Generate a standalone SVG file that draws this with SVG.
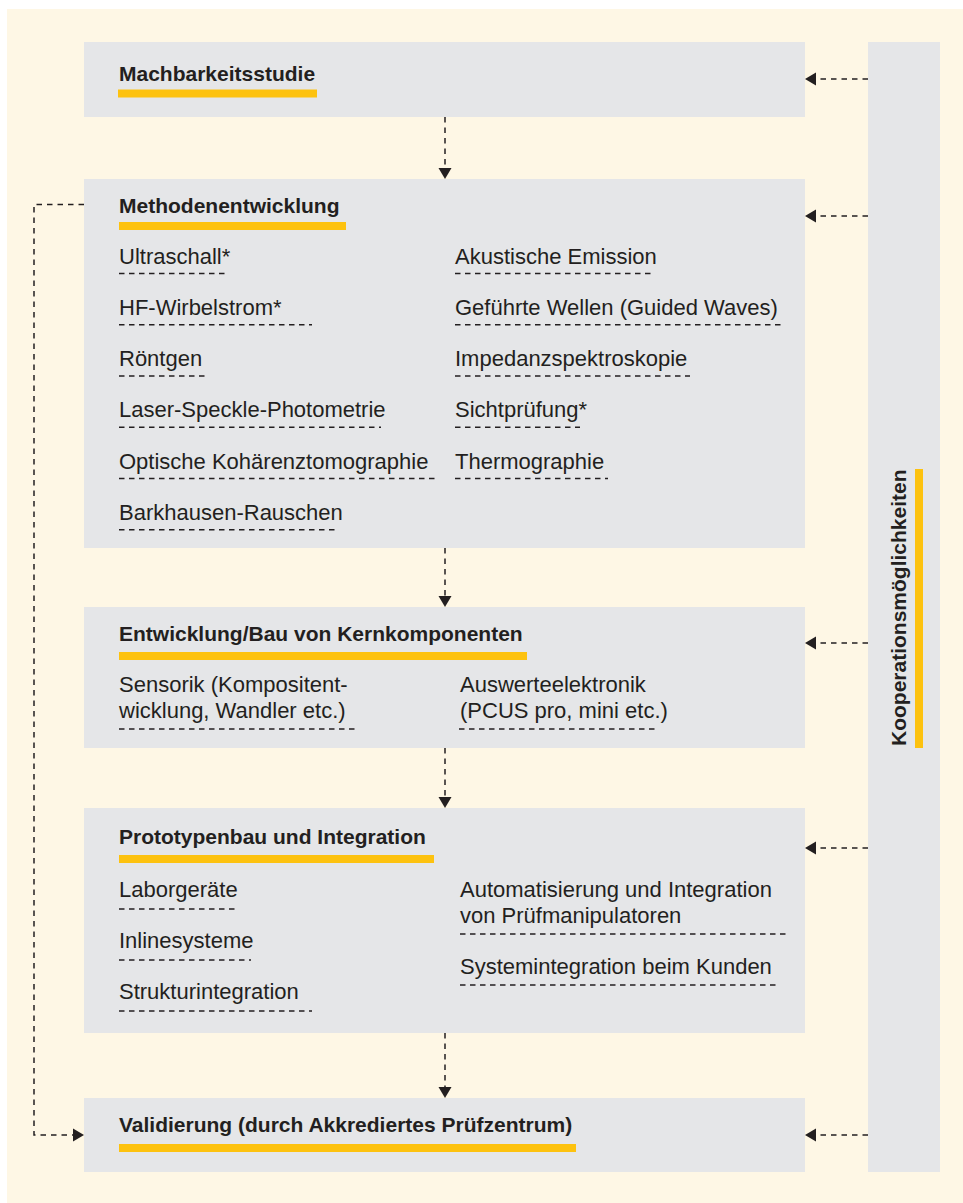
<svg xmlns="http://www.w3.org/2000/svg" width="963" height="1203" viewBox="0 0 963 1203">
<defs>
<style>
.box{fill:#E5E6E8}
.bar{fill:#FDC20F}
.t{font-family:"Liberation Sans",Arial,sans-serif;font-size:21px;font-weight:bold;fill:#231F20}
.i{font-family:"Liberation Sans",Arial,sans-serif;font-size:22px;fill:#231F20}
.u{stroke:#231F20;stroke-width:1.3;stroke-dasharray:5.5 4.5;fill:none}
.c{stroke:#231F20;stroke-width:1.5;stroke-dasharray:5.5 5;fill:none}
.h{fill:#231F20}
</style>
</defs>
<rect x="0" y="0" width="963" height="1203" fill="#FFFFFF"/>
<rect x="7" y="9" width="956" height="1194" fill="#FEF7E5"/>

<g id="node-machbarkeit">
<rect class="box" x="84" y="42" width="721" height="75"/>
<text class="t" x="119" y="81">Machbarkeitsstudie</text>
<rect class="bar" x="118" y="89.5" width="199" height="8"/>
</g>

<g id="node-methoden">
<rect class="box" x="84" y="179" width="721" height="369"/>
<text class="t" x="119" y="213">Methodenentwicklung</text>
<rect class="bar" x="119" y="222" width="227" height="8"/>
<text class="i" x="119" y="263.5">Ultraschall*</text>
<line class="u" x1="119" y1="273.5" x2="229" y2="273.5"/>
<text class="i" x="119" y="314.75">HF-Wirbelstrom*</text>
<line class="u" x1="119" y1="324.75" x2="312" y2="324.75"/>
<text class="i" x="119" y="366">Röntgen</text>
<line class="u" x1="119" y1="376" x2="206" y2="376"/>
<text class="i" x="119" y="417.25">Laser-Speckle-Photometrie</text>
<line class="u" x1="119" y1="427.25" x2="381" y2="427.25"/>
<text class="i" x="119" y="468.5">Optische Kohärenztomographie</text>
<line class="u" x1="119" y1="478.5" x2="436" y2="478.5"/>
<text class="i" x="119" y="519.75">Barkhausen-Rauschen</text>
<line class="u" x1="119" y1="529.75" x2="337" y2="529.75"/>
<text class="i" x="455" y="263.5">Akustische Emission</text>
<line class="u" x1="455" y1="273.5" x2="651" y2="273.5"/>
<text class="i" x="455" y="314.75">Geführte Wellen (Guided Waves)</text>
<line class="u" x1="455" y1="324.75" x2="783" y2="324.75"/>
<text class="i" x="455" y="366">Impedanzspektroskopie</text>
<line class="u" x1="455" y1="376" x2="690" y2="376"/>
<text class="i" x="455" y="417.25">Sichtprüfung*</text>
<line class="u" x1="455" y1="427.25" x2="580" y2="427.25"/>
<text class="i" x="455" y="468.5">Thermographie</text>
<line class="u" x1="455" y1="478.5" x2="608" y2="478.5"/>
</g>

<g id="node-kernkomponenten">
<rect class="box" x="84" y="607" width="721" height="141"/>
<text class="t" x="119" y="640.5">Entwicklung/Bau von Kernkomponenten</text>
<rect class="bar" x="119" y="652" width="408" height="8"/>
<text class="i" x="119" y="691.7">Sensorik (Kompositent-</text>
<text class="i" x="119" y="718.3">wicklung, Wandler etc.)</text>
<line class="u" x1="119" y1="729" x2="355" y2="729"/>
<text class="i" x="460" y="691.7">Auswerteelektronik</text>
<text class="i" x="460" y="718.3">(PCUS pro, mini etc.)</text>
<line class="u" x1="459" y1="729" x2="657" y2="729"/>
</g>

<g id="node-prototypen">
<rect class="box" x="84" y="808" width="721" height="225"/>
<text class="t" x="119" y="844">Prototypenbau und Integration</text>
<rect class="bar" x="119" y="855" width="315" height="8"/>
<text class="i" x="119" y="897">Laborgeräte</text>
<line class="u" x1="119" y1="909" x2="238" y2="909"/>
<text class="i" x="119" y="948">Inlinesysteme</text>
<line class="u" x1="119" y1="960" x2="251" y2="960"/>
<text class="i" x="119" y="999">Strukturintegration</text>
<line class="u" x1="119" y1="1011" x2="312" y2="1011"/>
<text class="i" x="460" y="897">Automatisierung und Integration</text>
<text class="i" x="460" y="923">von Prüfmanipulatoren</text>
<line class="u" x1="460" y1="934" x2="787" y2="934"/>
<text class="i" x="460" y="973.5">Systemintegration beim Kunden</text>
<line class="u" x1="460" y1="985" x2="778" y2="985"/>
</g>

<g id="node-validierung">
<rect class="box" x="84" y="1098" width="721" height="74"/>
<text class="t" x="119" y="1131.5">Validierung (durch Akkrediertes Prüfzentrum)</text>
<rect class="bar" x="119" y="1144" width="457" height="8"/>
</g>

<g id="node-kooperation">
<rect class="box" x="868" y="42" width="72" height="1130"/>
<text class="t" transform="translate(906,746) rotate(-90)" x="0" y="0">Kooperationsmöglichkeiten</text>
<rect class="bar" x="915" y="469" width="8" height="279"/>
</g>

<g id="connectors">
<line class="c" x1="445" y1="117" x2="445" y2="168"/>
<polygon class="h" points="438.5,168 451.5,168 445,179"/>
<line class="c" x1="445" y1="548" x2="445" y2="596"/>
<polygon class="h" points="438.5,596 451.5,596 445,607"/>
<line class="c" x1="445" y1="748" x2="445" y2="797"/>
<polygon class="h" points="438.5,797 451.5,797 445,808"/>
<line class="c" x1="445" y1="1033" x2="445" y2="1087"/>
<polygon class="h" points="438.5,1087 451.5,1087 445,1098"/>

<line class="c" x1="868" y1="79" x2="816" y2="79"/>
<polygon class="h" points="816,72.5 816,85.5 805,79"/>
<line class="c" x1="868" y1="216" x2="816" y2="216"/>
<polygon class="h" points="816,209.5 816,222.5 805,216"/>
<line class="c" x1="868" y1="643" x2="816" y2="643"/>
<polygon class="h" points="816,636.5 816,649.5 805,643"/>
<line class="c" x1="868" y1="848" x2="816" y2="848"/>
<polygon class="h" points="816,841.5 816,854.5 805,848"/>
<line class="c" x1="868" y1="1135" x2="816" y2="1135"/>
<polygon class="h" points="816,1128.5 816,1141.5 805,1135"/>

<polyline class="c" points="84,204.5 34,204.5 34,1135 73,1135"/>
<polygon class="h" points="73,1128.5 73,1141.5 84,1135"/>
</g>
</svg>
